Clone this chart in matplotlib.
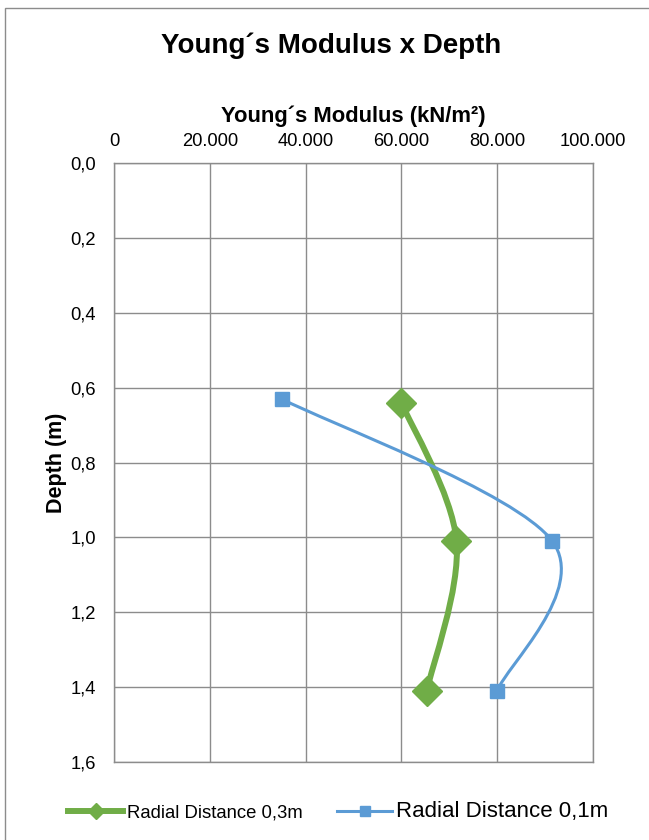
import matplotlib
matplotlib.use("Agg")
import matplotlib.pyplot as plt
import numpy as np
from matplotlib.path import Path
from matplotlib.patches import PathPatch, Rectangle
from matplotlib.lines import Line2D
from matplotlib.ticker import FuncFormatter, MultipleLocator

plt.rcParams['font.family'] = ['Liberation Sans', 'DejaVu Sans']

# Data
green_label = "Radial Distance 0,3m"
green_modulus = [60000, 71500, 65300]
green_depth = [0.64, 1.01, 1.41]

blue_label = "Radial Distance 0,1m"
blue_modulus = [35000, 91500, 80000]
blue_depth = [0.63, 1.01, 1.41]

title = "Young´s Modulus x Depth"
xlabel = "Young´s Modulus (kN/m²)"
ylabel = "Depth (m)"

GREEN = "#70AD47"
BLUE = "#5B9BD5"
GRID = "#8C8C8C"


def smooth_path(xs, ys):
    pts = np.column_stack([xs, ys]).astype(float)
    n = len(pts)
    verts = [pts[0]]
    codes = [Path.MOVETO]
    for i in range(n - 1):
        p0 = pts[i - 1] if i > 0 else pts[i]
        p1 = pts[i]
        p2 = pts[i + 1]
        p3 = pts[i + 2] if i + 2 < n else pts[i + 1]
        c1 = p1 + (p2 - p0) / 6.0
        c2 = p2 - (p3 - p1) / 6.0
        verts += [c1, c2, p2]
        codes += [Path.CURVE4] * 3
    return Path(verts, codes)


fig = plt.figure(figsize=(6.49, 8.40), dpi=100)
ax = fig.add_axes([114 / 649, 1 - 762 / 840, (593 - 114) / 649, (762 - 163) / 840])

# figure border
fig.patches.append(Rectangle((5 / 649, -0.1), 2, 1.1 - 8 / 840, transform=fig.transFigure,
                             fill=False, edgecolor="#8C8C8C", linewidth=1.0))

ax.add_patch(PathPatch(smooth_path(green_modulus, green_depth), fill=False,
                       edgecolor=GREEN, linewidth=4.3, capstyle='round', joinstyle='round', zorder=3))
ax.plot(green_modulus, green_depth, linestyle='none', marker='D', markersize=15,
        color=GREEN, markeredgecolor=GREEN, zorder=4)
ax.add_patch(PathPatch(smooth_path(blue_modulus, blue_depth), fill=False,
                       edgecolor=BLUE, linewidth=2.2, capstyle='round', zorder=3))
ax.plot(blue_modulus, blue_depth, linestyle='none', marker='s', markersize=10,
        color=BLUE, markeredgecolor=BLUE, zorder=4)

ax.set_xlim(0, 100000)
ax.set_ylim(1.6, 0.0)
ax.xaxis.set_major_locator(MultipleLocator(20000))
ax.yaxis.set_major_locator(MultipleLocator(0.2))
ax.xaxis.set_major_formatter(FuncFormatter(lambda v, p: f"{int(round(v)):,}".replace(",", ".")))
ax.yaxis.set_major_formatter(FuncFormatter(lambda v, p: f"{v:.1f}".replace(".", ",")))
ax.xaxis.tick_top()
ax.xaxis.set_label_position('top')
ax.tick_params(axis='both', length=0, labelsize=13.2, colors='black', pad=9)
ax.tick_params(axis='y', pad=13)
ax.grid(True, color=GRID, linewidth=1.0)
ax.set_axisbelow(True)
for s in ax.spines.values():
    s.set_color(GRID)
    s.set_linewidth(1.0)

ax.set_xlabel(xlabel, fontsize=15.8, fontweight='bold', labelpad=8)
ax.set_ylabel(ylabel, fontsize=15.5, fontweight='bold', labelpad=2.5)
fig.text(331 / 649, 1 - 46 / 840, title, ha='center', va='center', fontsize=20, fontweight='bold')

handles = [
    Line2D([], [], color=GREEN, linewidth=4.3, marker='D', markersize=8, label=green_label),
    Line2D([], [], color=BLUE, linewidth=2.2, marker='s', markersize=7, label=blue_label),
]
leg = fig.legend(handles=handles, loc='center', bbox_to_anchor=(338 / 649, 1 - 812 / 840),
                 ncol=2, frameon=False, fontsize=13.3, handlelength=3.0, handletextpad=0.2,
                 columnspacing=1.85)
leg.get_texts()[1].set_fontsize(16)

fig.savefig("out.png", dpi=100)
